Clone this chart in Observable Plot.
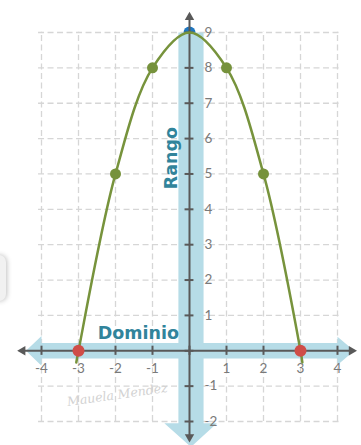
<!DOCTYPE html>
<html>
<head>
<meta charset="utf-8">
<script src="https://cdn.jsdelivr.net/npm/d3@7"></script>
<script src="https://cdn.jsdelivr.net/npm/@observablehq/plot@0.6"></script>
<style>
  html, body { margin: 0; padding: 0; background: #fff; }
  #chart { position: relative; width: 361px; height: 445px; overflow: hidden; }
  #chart svg { position: absolute; left: 0; top: 0; }
  .tab { position: absolute; left: -12px; top: 255px; width: 18px; height: 46px;
         border-radius: 7px; background: #f1f1f1; box-shadow: 1px 0 5px rgba(0,0,0,0.25); }
</style>
</head>
<body>
<div id="chart"><div class="tab"></div></div>
<script>
// f(x) = 9 − x², evaluated at the integer points that are marked
const pointX = [-3, -2, -1, 0, 1, 2, 3];
const pointY = [0, 5, 8, 9, 8, 5, 0];
const pointKind = ["root", "mid", "mid", "vertex", "mid", "mid", "root"];

// The drawn curve runs a little past the roots, below the x-axis
const curveX = [-3.06, -3, -2, -1, 0, 1, 2, 3, 3.05];
const curveY = [-0.33, 0, 5, 8, 9, 8, 5, 0, -0.33];

// Axes, ticks and labels
const xTicks = [-4, -3, -2, -1, 0, 1, 2, 3, 4];
const yTicks = [-2, -1, 0, 1, 2, 3, 4, 5, 6, 7, 8, 9];
const xTickLabels = ["-4", "-3", "-2", "-1", "", "1", "2", "3", "4"];
const yTickLabels = ["-2", "-1", "", "1", "2", "3", "4", "5", "6", "7", "8", "9"];
const domainLabel = "Dominio";
const rangeLabel = "Rango";
const signature = "Mauela Mendez";

const colors = { root: "#cf4d48", mid: "#76923c", vertex: "#1f77c0" };
const curveColor = "#77933c";
const bandColor = "#b6dce7";
const axisColor = "#595959";
const labelColor = "#31849b";
const tickColor = "#7a7a7a";

// Light-blue arrow bands highlighting domain (horizontal) and range (vertical)
const domainBand = [
  [-4.42, 0], [-4.0, 0.42], [-4.0, 0.22], [4.0, 0.22], [4.0, 0.40],
  [4.45, 0], [4.0, -0.40], [4.0, -0.22], [-4.0, -0.22], [-4.0, -0.42]
];
const rangeBand = [
  [-0.30, 9], [0.38, 9], [0.38, -2.05], [0.74, -2.05], [0.04, -2.72],
  [-0.68, -2.05], [-0.30, -2.05]
];

const points = pointX.map((x, i) => ({ x, y: pointY[i], kind: pointKind[i] }));
const curve = curveX.map((x, i) => ({ x, y: curveY[i] }));
const xLabelRows = xTicks.map((x, i) => ({ x, text: xTickLabels[i] })).filter(d => d.text);
const yLabelRows = yTicks.map((y, i) => ({ y, text: yTickLabels[i] })).filter(d => d.text);

const tickFont = "Lato, 'Open Sans', sans-serif";

const chart = Plot.plot({
  width: 361,
  height: 445,
  marginLeft: 41,
  marginRight: 24,
  marginTop: 32,
  marginBottom: 24,
  x: { domain: [-4, 4], axis: null },
  y: { domain: [-2, 9], axis: null },
  style: { background: "transparent", overflow: "visible" },
  marks: [
    // dashed grid
    Plot.ruleX(xTicks, { x: d => d, y1: -2, y2: 9.02, stroke: "#d6d6d6", strokeWidth: 1.3, strokeDasharray: "6,3.5" }),
    Plot.ruleY(yTicks, { y: d => d, x1: -4.08, x2: 4.08, stroke: "#d6d6d6", strokeWidth: 1.3, strokeDasharray: "6,3.5" }),
    // vertex point sits under the range band
    Plot.dot(points.filter(d => d.kind === "vertex"), { x: "x", y: "y", r: 6, fill: colors.vertex }),
    // highlight bands
    Plot.line(domainBand, { x: d => d[0], y: d => d[1], fill: bandColor, stroke: null }),
    Plot.line(rangeBand, { x: d => d[0], y: d => d[1], fill: bandColor, stroke: null }),
    // dark axes with arrowheads
    Plot.ruleY([0], { x1: -4.5, x2: 4.4, stroke: axisColor, strokeWidth: 2 }),
    Plot.ruleX([0], { y1: -2.45, y2: 9.45, stroke: axisColor, strokeWidth: 2 }),
    Plot.dot([[-4.51, 0, -90], [4.38, 0, 90], [0, 9.43, 0], [0, -2.44, 180]], {
      x: d => d[0], y: d => d[1], rotate: d => d[2], symbol: "triangle2", r: 4.5, fill: axisColor
    }),
    // tick marks
    Plot.ruleX(xTicks, { x: d => d, y1: -0.13, y2: 0.13, stroke: axisColor, strokeWidth: 2 }),
    Plot.ruleY(yTicks, { y: d => d, x1: -0.12, x2: 0.12, stroke: axisColor, strokeWidth: 2 }),
    // tick labels
    Plot.text(xLabelRows, {
      x: "x", y: 0, dy: 18, text: "text",
      fill: tickColor, fontSize: 13.5, fontFamily: tickFont
    }),
    Plot.text(yLabelRows, {
      x: 0, y: "y", dx: 15, textAnchor: "start", text: "text",
      fill: tickColor, fontSize: 13.5, fontFamily: tickFont
    }),
    // domain / range labels
    Plot.text([domainLabel], {
      x: -1.38, y: 0.5, text: d => d, fill: labelColor, fontSize: 17.5,
      fontWeight: "bold", fontFamily: "'DejaVu Sans', sans-serif"
    }),
    Plot.text([rangeLabel], {
      x: -0.5, y: 5.45, text: d => d, rotate: -90, fill: labelColor, fontSize: 17.5,
      fontWeight: "bold", fontFamily: "'DejaVu Sans', sans-serif"
    }),
    // signature
    Plot.text([signature], {
      x: -1.95, y: -1.25, text: d => d, rotate: -8, fill: "#d2d2d2", fontSize: 12.5,
      fontStyle: "italic", fontFamily: "'DejaVu Serif', serif"
    }),
    // the parabola
    Plot.line(curve, { x: "x", y: "y", curve: "catmull-rom", stroke: curveColor, strokeWidth: 2.5 }),
    // marked points
    Plot.dot(points.filter(d => d.kind === "mid"), { x: "x", y: "y", r: 5.5, fill: colors.mid }),
    Plot.dot(points.filter(d => d.kind === "root"), { x: "x", y: "y", r: 6, fill: colors.root })
  ]
});

document.getElementById("chart").appendChild(chart);
</script>
</body>
</html>
